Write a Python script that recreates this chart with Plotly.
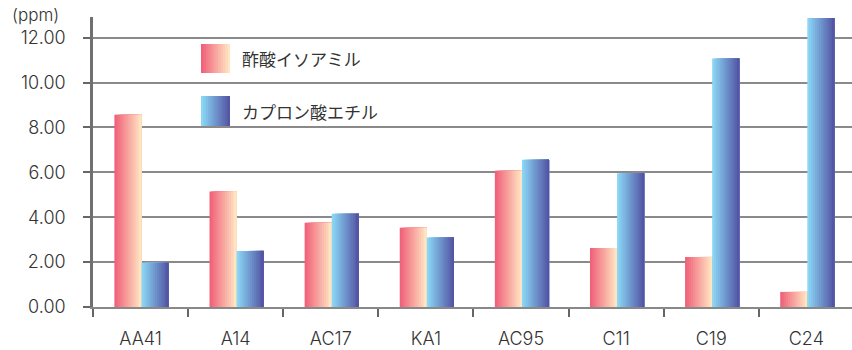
import plotly.graph_objects as go

categories = ["AA41", "A14", "AC17", "KA1", "AC95", "C11", "C19", "C24"]
isoamyl_acetate = [8.57, 5.15, 3.75, 3.53, 6.07, 2.63, 2.23, 0.67]
ethyl_caproate = [1.97, 2.5, 4.15, 3.1, 6.56, 5.96, 11.07, 12.88]
series_names = ["酢酸イソアミル", "カプロン酸エチル"]
y_ticks = [0, 2, 4, 6, 8, 10, 12]

FONT = "Inter, Noto Sans CJK JP, sans-serif"
CJK = "Noto Sans CJK JP, sans-serif"
TXT = "#333333"

pink_grad = ((240, 98, 122), (255, 228, 194))
blue_grad = ((138, 214, 245), (84, 86, 165))

N = 14
BAR_W = 0.285


def lerp(c0, c1, t):
    return "rgb(%d,%d,%d)" % tuple(round(a + (b - a) * t) for a, b in zip(c0, c1))


fig = go.Figure()

for values, grad, base in [(isoamyl_acetate, pink_grad, -BAR_W + 0.01), (ethyl_caproate, blue_grad, 0.01)]:
    for k in range(N):
        t = k / (N - 1)
        step = BAR_W / N
        fig.add_trace(go.Bar(
            x=categories, y=values,
            offset=base + k * step,
            width=BAR_W - k * step,
            marker=dict(color=lerp(grad[0], grad[1], t), line=dict(width=0)),
            showlegend=False, hoverinfo="skip",
        ))

# manual legend with gradient swatches
L, R, T, B = 93, 852, 17, 307


def px_x(px):
    return (px - L) / (R - L)


def px_y(py):
    return (B - py) / (B - T)


shapes = []
legend_rows = [(series_names[0], pink_grad, 44, 73), (series_names[1], blue_grad, 96, 126)]
annotations = []
for name, grad, y0, y1 in legend_rows:
    sx0, sx1 = 201, 230
    M = 12
    for k in range(M):
        t = k / (M - 1)
        a = sx0 + (sx1 - sx0) * k / M
        shapes.append(dict(type="rect", xref="paper", yref="paper",
                           x0=px_x(a), x1=px_x(sx1), y0=px_y(y1), y1=px_y(y0),
                           fillcolor=lerp(grad[0], grad[1], t), line=dict(width=0), layer="above"))
    annotations.append(dict(text=name, xref="paper", yref="paper", x=px_x(240), y=px_y((y0 + y1) / 2),
                            xanchor="left", yanchor="middle", showarrow=False,
                            font=dict(family=CJK, size=17, color=TXT)))

annotations.append(dict(text="(ppm)", xref="paper", yref="paper", x=px_x(10), y=px_y(15),
                        xanchor="left", yanchor="middle", showarrow=False,
                        font=dict(family=FONT, size=17, color=TXT, weight=300)))

fig.update_layout(
    width=852, height=350,
    margin=dict(l=L, r=852 - R, t=T, b=350 - B),
    paper_bgcolor="white", plot_bgcolor="white",
    barmode="overlay",
    showlegend=False,
    shapes=shapes,
    annotations=annotations,
    xaxis=dict(
        range=[-0.5, 7.48],
        showline=True, linecolor="#888888", linewidth=2,
        ticks="outside", tickson="boundaries", ticklen=8, tickcolor="#666666", tickwidth=1.5,
        showgrid=False,
        tickfont=dict(family=FONT, size=18, color=TXT, weight=300),
        ticklabelstandoff=14,
    ),
    yaxis=dict(
        range=[0, 12.92],
        tickvals=y_ticks, tickformat=".2f",
        showline=True, linecolor="#707070", linewidth=2.5,
        ticks="outside", ticklen=7, tickcolor="#666666", tickwidth=1.5,
        showgrid=True, gridcolor="#8a8a8a", gridwidth=1.5,
        zeroline=False,
        tickfont=dict(family=FONT, size=18, color=TXT, weight=300),
        ticklabelstandoff=14,
    ),
)

fig.write_html("out.html")
